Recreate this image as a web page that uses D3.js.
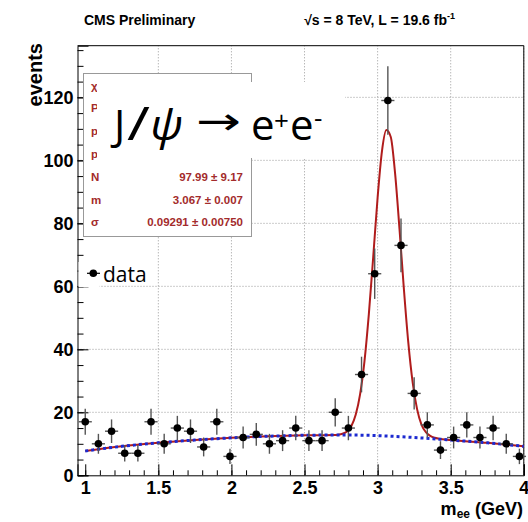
<!DOCTYPE html>
<html>
<head>
<meta charset="utf-8">
<script src="https://cdn.jsdelivr.net/npm/d3@7"></script>
<style>
  body { margin: 0; background: #fff; }
  svg { display: block; }
</style>
</head>
<body>
<script>
// bin centres (GeV) and counts
const massGeV = [1.00, 1.09, 1.18, 1.27, 1.36, 1.45, 1.54, 1.63, 1.72, 1.81, 1.90, 1.99,
  2.08, 2.17, 2.26, 2.35, 2.44, 2.53, 2.62, 2.71, 2.80, 2.89, 2.98, 3.07, 3.16, 3.25,
  3.34, 3.43, 3.52, 3.61, 3.70, 3.79, 3.88, 3.97];
const events = [17, 10, 14, 7, 7, 17, 10, 15, 14, 9, 17, 6,
  12, 13, 10, 11, 15, 11, 11, 20, 15, 32, 64, 119, 73, 26,
  16, 8, 12, 16, 12, 15, 10, 6];

// background fit (blue dotted)
const bgMass = [1.0, 1.25, 1.5, 1.75, 2.0, 2.25, 2.5, 2.75, 3.0, 3.25, 3.5, 3.75, 4.0];
const bgEvents = [7.7, 9.2, 10.3, 11.2, 11.9, 12.4, 12.7, 12.8, 12.6, 12.0, 11.2, 10.3, 9.2];

// signal + background fit around the peak (red)
const peakMass = [2.70, 2.73, 2.76, 2.79, 2.82, 2.85, 2.88, 2.91, 2.94, 2.97, 3.00, 3.03,
  3.06, 3.09, 3.12, 3.15, 3.18, 3.21, 3.24, 3.27, 3.30, 3.33, 3.36, 3.39, 3.42];
const peakEvents = [12.8, 12.9, 13.2, 13.9, 15.6, 19.2, 25.7, 36.2, 51.2, 69.4, 88.2, 103.0,
  109.6, 107.4, 95.6, 78.0, 59.0, 42.1, 29.4, 21.0, 16.1, 13.7, 12.5, 11.9, 11.6];

const xMajor = [1, 1.5, 2, 2.5, 3, 3.5, 4];
const yMajor = [0, 20, 40, 60, 80, 100, 120];

// fit box rows (the upper ones are mostly hidden by the pasted label)
const statLabels = ["χ²", "P", "p", "p", "N", "m", "σ"];
const statValues = ["31.13 / 29", "", "", "", "97.99 ± 9.17", "3.067 ± 0.007", "0.09291 ± 0.00750"];

const width = 528, height = 522;
const halfBin = 0.045;
const font = "'Liberation Sans', Arial, Helvetica, sans-serif";

const svg = d3.select("body").append("svg")
  .attr("width", width)
  .attr("height", height)
  .style("font-family", font);

svg.append("clipPath").attr("id", "labelclip")
  .append("rect").attr("x", 84).attr("y", 74).attr("width", 13).attr("height", 90);

const x = d3.scaleLinear().domain([0.947, 4.0]).range([77.5, 523.8]);
const y = d3.scaleLinear().domain([0, 136.4]).range([475.3, 45.7]);

// grid
const grid = svg.append("g")
  .attr("stroke", "#999")
  .attr("stroke-width", 1)
  .attr("stroke-dasharray", "1,2");
grid.selectAll(".gx").data(xMajor.filter(d => d > 1))
  .join("line")
  .attr("x1", d => x(d)).attr("x2", d => x(d))
  .attr("y1", y.range()[0]).attr("y2", y.range()[1]);
grid.selectAll(".gy").data(yMajor.filter(d => d > 0))
  .join("line")
  .attr("x1", x.range()[0]).attr("x2", x.range()[1])
  .attr("y1", d => y(d)).attr("y2", d => y(d));

// axes
const xAxis = svg.append("g")
  .attr("transform", `translate(0,${y(0)})`)
  .call(d3.axisBottom(x).tickValues(xMajor).tickSize(-11).tickPadding(6)
    .tickFormat(d3.format("")));
svg.append("g")
  .attr("transform", `translate(0,${y(0)})`)
  .call(d3.axisBottom(x).tickValues(d3.range(10, 41).map(d => d / 10)).tickSize(-5).tickFormat(""))
  .call(g => g.select(".domain").remove());

const yAxis = svg.append("g")
  .attr("transform", `translate(${x.range()[0]},0)`)
  .call(d3.axisLeft(y).tickValues(yMajor).tickSize(-11).tickPadding(4));
svg.append("g")
  .attr("transform", `translate(${x.range()[0]},0)`)
  .call(d3.axisLeft(y).tickValues(d3.range(0, 136, 5)).tickSize(-6).tickFormat(""))
  .call(g => g.select(".domain").remove());

svg.selectAll(".tick line").attr("stroke", "#000");
svg.selectAll(".domain").attr("stroke", "#000");
[xAxis, yAxis].forEach(g => g.selectAll("text")
  .style("font-family", font)
  .style("font-size", "18px")
  .style("font-weight", "bold")
  .attr("fill", "#000"));

// frame top / right
svg.append("line")
  .attr("x1", x.range()[0]).attr("x2", x.range()[1])
  .attr("y1", y.range()[1]).attr("y2", y.range()[1])
  .attr("stroke", "#000");
svg.append("line")
  .attr("x1", x.range()[1]).attr("x2", x.range()[1])
  .attr("y1", y.range()[1]).attr("y2", y.range()[0])
  .attr("stroke", "#000");

// fit curves
const line = d3.line().x(d => x(d[0])).y(d => y(d[1])).curve(d3.curveMonotoneX);
const bgPts = bgMass.map((m, i) => [m, bgEvents[i]]);
const totalPts = bgPts.filter(d => d[0] < peakMass[0])
  .concat(peakMass.map((m, i) => [m, peakEvents[i]]))
  .concat(bgPts.filter(d => d[0] > peakMass[peakMass.length - 1]));

svg.append("path")
  .attr("d", line(totalPts))
  .attr("fill", "none")
  .attr("stroke", "#b01c1c")
  .attr("stroke-width", 2);
svg.append("path")
  .attr("d", line(bgPts))
  .attr("fill", "none")
  .attr("stroke", "#1c2ad0")
  .attr("stroke-width", 3)
  .attr("stroke-dasharray", "3,3");

// data points
const pts = svg.append("g").selectAll("g")
  .data(massGeV.map((m, i) => ({ m, n: events[i] })))
  .join("g");
pts.append("line")
  .attr("x1", d => x(d.m)).attr("x2", d => x(d.m))
  .attr("y1", d => y(d.n - Math.sqrt(d.n))).attr("y2", d => y(d.n + Math.sqrt(d.n)))
  .attr("stroke", "#555").attr("stroke-width", 1.4);
pts.append("line")
  .attr("x1", d => x(d.m - halfBin)).attr("x2", d => x(d.m + halfBin))
  .attr("y1", d => y(d.n)).attr("y2", d => y(d.n))
  .attr("stroke", "#555").attr("stroke-width", 1.4);
pts.append("circle")
  .attr("cx", d => x(d.m)).attr("cy", d => y(d.n))
  .attr("r", 3.8)
  .attr("fill", "#000");

// stats box
const box = svg.append("g");
box.append("rect")
  .attr("x", 83.5).attr("y", 73.5).attr("width", 168).attr("height", 163)
  .attr("fill", "#fff").attr("stroke", "#999");
statLabels.forEach((s, i) => {
  box.append("text")
    .attr("x", 91).attr("y", 89.5 + i * 22.8)
    .attr("clip-path", i < 4 ? "url(#labelclip)" : null)
    .attr("fill", "#a32b2b").style("font-size", "11.5px").style("font-weight", "bold")
    .text(s);
  if (statValues[i]) {
    box.append("text")
      .attr("x", 243).attr("y", 89.5 + i * 22.8)
      .attr("text-anchor", "end")
      .attr("fill", "#a32b2b").style("font-size", "11.5px").style("font-weight", "bold")
      .text(statValues[i]);
  }
});

// pasted label with white background
svg.append("rect").attr("x", 97).attr("y", 82).attr("width", 248).attr("height", 76).attr("fill", "#fff");
svg.append("rect").attr("x", 345).attr("y", 82).attr("width", 30).attr("height", 14).attr("fill", "#fff");
const jpsi = svg.append("text")
  .attr("y", 140)
  .style("font-family", "'Open Sans', 'Noto Sans', sans-serif")
  .style("font-size", "42px")
  .attr("fill", "#000");
jpsi.append("tspan").attr("x", 114).text("J");
jpsi.append("tspan").attr("x", 127).style("font-size", "46px")
  .attr("textLength", 23).attr("lengthAdjust", "spacingAndGlyphs").text("/");
jpsi.append("tspan").attr("x", 150).style("font-style", "italic")
  .attr("textLength", 33).attr("lengthAdjust", "spacingAndGlyphs").text("ψ");
jpsi.append("tspan").attr("x", 196).attr("y", 134)
  .style("font-family", "'DejaVu Sans', sans-serif").style("font-size", "38px")
  .attr("textLength", 45).attr("lengthAdjust", "spacingAndGlyphs").text("→");
jpsi.append("tspan").attr("x", 251).attr("y", 140).text("e");
jpsi.append("tspan").attr("x", 274).attr("y", 130).style("font-size", "26px").text("+");
jpsi.append("tspan").attr("x", 290).attr("y", 140).text("e");
jpsi.append("tspan").attr("x", 314).attr("y", 127).style("font-size", "26px").text("-");

// legend
svg.append("rect").attr("x", 78.5).attr("y", 262).attr("width", 21).attr("height", 25).attr("fill", "#fff");
svg.append("line").attr("x1", 87).attr("x2", 100).attr("y1", 273.3).attr("y2", 273.3)
  .attr("stroke", "#000").attr("stroke-width", 1.2);
svg.append("circle").attr("cx", 93.3).attr("cy", 273.3).attr("r", 3.8).attr("fill", "#000");
svg.append("text")
  .attr("x", 103).attr("y", 282)
  .style("font-family", "'Open Sans', 'Noto Sans', sans-serif")
  .style("font-size", "21px")
  .text("data");

// titles
svg.append("text")
  .attr("x", 84).attr("y", 25)
  .style("font-size", "14px").style("font-weight", "bold")
  .text("CMS Preliminary");
const lumi = svg.append("text")
  .attr("x", 455).attr("y", 25)
  .attr("text-anchor", "end")
  .style("font-size", "14px").style("font-weight", "bold");
lumi.append("tspan").text("√s = 8 TeV, L = 19.6 fb");
lumi.append("tspan").attr("dy", -6).style("font-size", "9px").text("-1");

svg.append("text")
  .attr("transform", "translate(42,43) rotate(-90)")
  .attr("text-anchor", "end")
  .style("font-size", "20px").style("font-weight", "bold")
  .text("events");

const xl = svg.append("text")
  .attr("x", 523).attr("y", 515)
  .attr("text-anchor", "end")
  .style("font-size", "18px").style("font-weight", "bold");
xl.append("tspan").text("m");
xl.append("tspan").attr("dy", 3).style("font-size", "12px").text("ee");
xl.append("tspan").attr("dy", -3).text(" (GeV)");
</script>
</body>
</html>
